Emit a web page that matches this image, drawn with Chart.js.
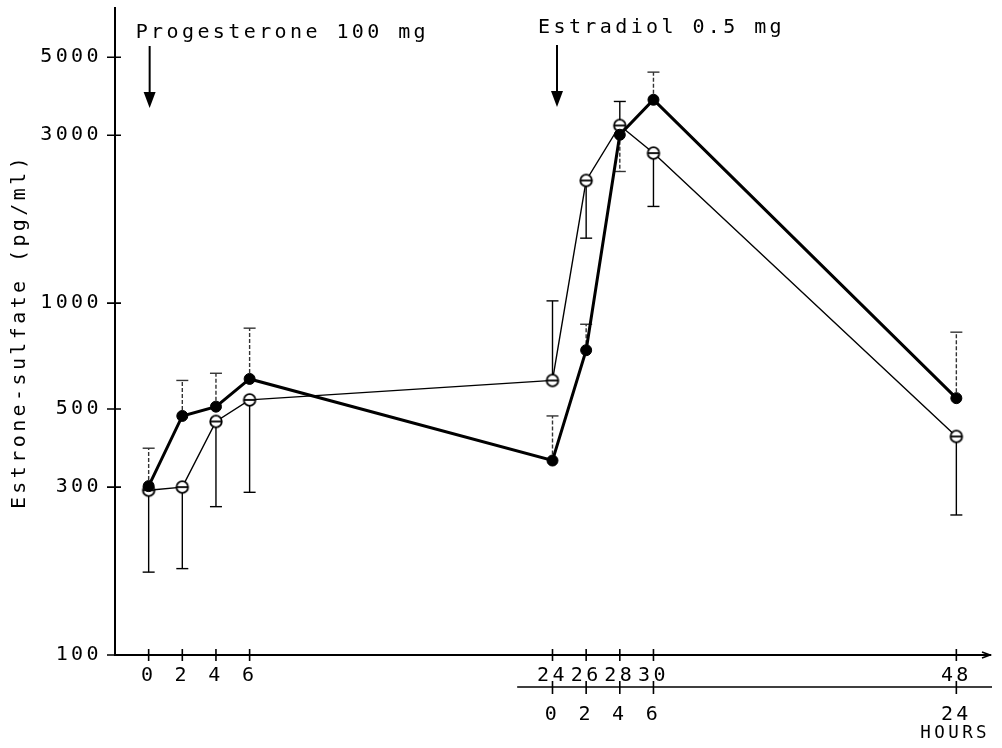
<!DOCTYPE html>
<html>
<head>
<meta charset="utf-8">
<script src="https://cdn.jsdelivr.net/npm/chart.js@4"></script>
<style>
html, body { margin: 0; padding: 0; background: #fff; }
</style>
</head>
<body>
<canvas id="c" width="1002" height="748"></canvas>
<script>
// hours after progesterone; second row of the time axis restarts at the estradiol dose
const hours = [0, 2, 4, 6, 24, 26, 28, 30, 48]
const filledVals = [302, 478, 508, 609, 357, 735, 3010, 3785, 537]
const filledErr = [387, 603, 632, 849, 478, 871, 2367, 4535, 827]   // end of the one-sided SD bar
const openVals = [294, 300, 461, 531, 603, 2232, 3199, 2670, 418]
const openErr = [172, 176, 264, 290, 1015, 1530, 3743, 1883, 250]
const yTicks = [100, 300, 500, 1000, 3000, 5000]
const xTicks = [0, 2, 4, 6, 24, 26, 28, 30, 48]
const x2Ticks = [24, 26, 28, 30, 48]
const x2Offset = 24
const lowerAxisStart = 21.9

const FONT = '"DejaVu Sans Mono", "Liberation Mono", monospace'
const SPACING = '3.4px'

const notes = [
    {text: 'Progesterone 100 mg', hour: 0, dx: -13, base: 38, arrowDx: 1, arrowTop: 46, arrowBottom: 108},
    {text: 'Estradiol 0.5 mg', hour: 24, dx: -14.5, base: 33, arrowDx: 4.5, arrowTop: 45, arrowBottom: 107}
]

function openMarker() {
    let c = document.createElement('canvas')
    c.width = 16
    c.height = 16
    let g = c.getContext('2d')
    g.fillStyle = '#fff'
    g.strokeStyle = '#000'
    g.lineWidth = 1.8
    g.beginPath()
    g.arc(8, 8, 5.8, 0, Math.PI * 2)
    g.fill()
    g.stroke()
    g.beginPath()
    g.moveTo(2.5, 8)
    g.lineTo(13.5, 8)
    g.stroke()
    return c
}

function pairs(xs, ys) {
    let out = []
    for (let i = 0; i < xs.length; i++) out.push({x: xs[i], y: ys[i]})
    return out
}

const errorBars = {
    id: 'errorBars',
    beforeDatasetsDraw(chart) {
        const ctx = chart.ctx
        const ys = chart.scales.y
        chart.data.datasets.forEach((ds, i) => {
            const meta = chart.getDatasetMeta(i)
            ctx.save()
            ctx.strokeStyle = ds.errColor
            ctx.lineWidth = 1.4
            meta.data.forEach((pt, j) => {
                const yEnd = ys.getPixelForValue(ds.errEnd[j])
                ctx.setLineDash(ds.errDash)
                ctx.beginPath()
                ctx.moveTo(pt.x, pt.y)
                ctx.lineTo(pt.x, yEnd)
                ctx.stroke()
                ctx.setLineDash([])
                ctx.beginPath()
                ctx.moveTo(pt.x - 6, yEnd)
                ctx.lineTo(pt.x + 6, yEnd)
                ctx.stroke()
            })
            ctx.restore()
        })
    }
}

const axisMarks = {
    id: 'axisMarks',
    beforeDraw(chart) {
        chart.ctx.letterSpacing = SPACING
    },
    afterDraw(chart) {
        const {ctx, chartArea, scales: {x, x2, y}} = chart
        ctx.save()
        ctx.letterSpacing = '0px'
        ctx.strokeStyle = '#000'
        ctx.lineWidth = 1.6
        ctx.beginPath()
        yTicks.forEach(v => {
            const py = y.getPixelForValue(v)
            ctx.moveTo(chartArea.left - 8, py)
            ctx.lineTo(chartArea.left + 6, py)
        })
        xTicks.forEach(v => {
            const px = x.getPixelForValue(v)
            ctx.moveTo(px, chartArea.bottom - 6)
            ctx.lineTo(px, chartArea.bottom + 6)
        })
        // second time axis (hours after estradiol)
        const y2 = x2.top
        ctx.moveTo(x2.getPixelForValue(lowerAxisStart), y2)
        ctx.lineTo(chartArea.right + 2, y2)
        x2Ticks.forEach(v => {
            const px = x2.getPixelForValue(v)
            ctx.moveTo(px, y2 - 6)
            ctx.lineTo(px, y2 + 7)
        })
        ctx.stroke()

        // small arrow head at the end of the time axis
        ctx.beginPath()
        ctx.moveTo(chartArea.right - 8, chartArea.bottom - 3)
        ctx.lineTo(chartArea.right, chartArea.bottom)
        ctx.lineTo(chartArea.right - 8, chartArea.bottom + 3)
        ctx.stroke()

        // dose annotations
        ctx.fillStyle = '#000'
        ctx.font = '20px ' + FONT
        ctx.letterSpacing = SPACING
        ctx.textBaseline = 'alphabetic'
        ctx.textAlign = 'left'
        notes.forEach(n => {
            const px = x.getPixelForValue(n.hour)
            ctx.fillText(n.text, px + n.dx, n.base)
            const ax = px + n.arrowDx
            ctx.lineWidth = 2
            ctx.beginPath()
            ctx.moveTo(ax, n.arrowTop)
            ctx.lineTo(ax, n.arrowBottom - 12)
            ctx.stroke()
            ctx.beginPath()
            ctx.moveTo(ax - 6, n.arrowBottom - 16)
            ctx.lineTo(ax + 6, n.arrowBottom - 16)
            ctx.lineTo(ax, n.arrowBottom)
            ctx.closePath()
            ctx.fill()
        })
        ctx.restore()
    }
}

var chart = new Chart(document.getElementById('c'), {
    type: 'line',
    plugins: [errorBars, axisMarks],
    data: {
        datasets: [{
            label: 'open',
            data: pairs(hours, openVals),
            borderColor: '#000',
            borderWidth: 1.4,
            pointStyle: openMarker(),
            pointRadius: 6,
            errEnd: openErr,
            errDash: [],
            errColor: '#000',
            order: 2
        }, {
            label: 'filled',
            data: pairs(hours, filledVals),
            borderColor: '#000',
            borderWidth: 3,
            pointStyle: 'circle',
            pointRadius: 5.5,
            pointBorderWidth: 1,
            pointBackgroundColor: '#000',
            pointBorderColor: '#000',
            errEnd: filledErr,
            errDash: [4, 2],
            errColor: '#333',
            order: 1
        }]
    },
    options: {
        responsive: false,
        animation: false,
        layout: {padding: {top: 8, right: 12, bottom: 0, left: 0}},
        plugins: {legend: {display: false}, tooltip: {enabled: false}},
        elements: {line: {tension: 0}},
        scales: {
            x: {
                type: 'linear', position: 'bottom', min: -2, max: 50,
                afterBuildTicks: s => { s.ticks = xTicks.map(v => ({value: v})) },
                afterFit: s => { s.height = 32; s.paddingLeft = 0; s.paddingRight = 0 },
                grid: {drawOnChartArea: false, drawTicks: false},
                border: {color: '#000', width: 2},
                ticks: {autoSkip: false, maxRotation: 0, padding: 9, color: '#000', font: {family: FONT, size: 20}}
            },
            x2: {
                type: 'linear', position: 'bottom', min: -2, max: 50,
                afterBuildTicks: s => { s.ticks = x2Ticks.map(v => ({value: v})) },
                afterFit: s => { s.height = 61; s.paddingLeft = 0; s.paddingRight = 0 },
                grid: {display: false, drawOnChartArea: false, drawTicks: false},
                border: {display: false},
                ticks: {autoSkip: false, maxRotation: 0, padding: 16, color: '#000', font: {family: FONT, size: 20},
                    callback: v => String(v - x2Offset)},
                title: {display: true, text: 'HOURS', align: 'end', color: '#000',
                    font: {family: FONT, size: 17.5}, padding: {top: 0, bottom: 4}}
            },
            y: {
                type: 'logarithmic', min: 100, max: 6900,
                afterBuildTicks: s => { s.ticks = yTicks.map(v => ({value: v})) },
                afterFit: s => { s.width = 115; s.paddingTop = 0; s.paddingBottom = 0 },
                grid: {drawOnChartArea: false, drawTicks: false},
                border: {color: '#000', width: 2},
                ticks: {padding: 13, color: '#000', font: {family: FONT, size: 20}, callback: v => String(v)},
                title: {display: true, text: 'Estrone-sulfate (pg/ml)', color: '#000',
                    font: {family: FONT, size: 20}, padding: {top: 8, bottom: 0}}
            }
        }
    }
})
</script>
</body>
</html>
